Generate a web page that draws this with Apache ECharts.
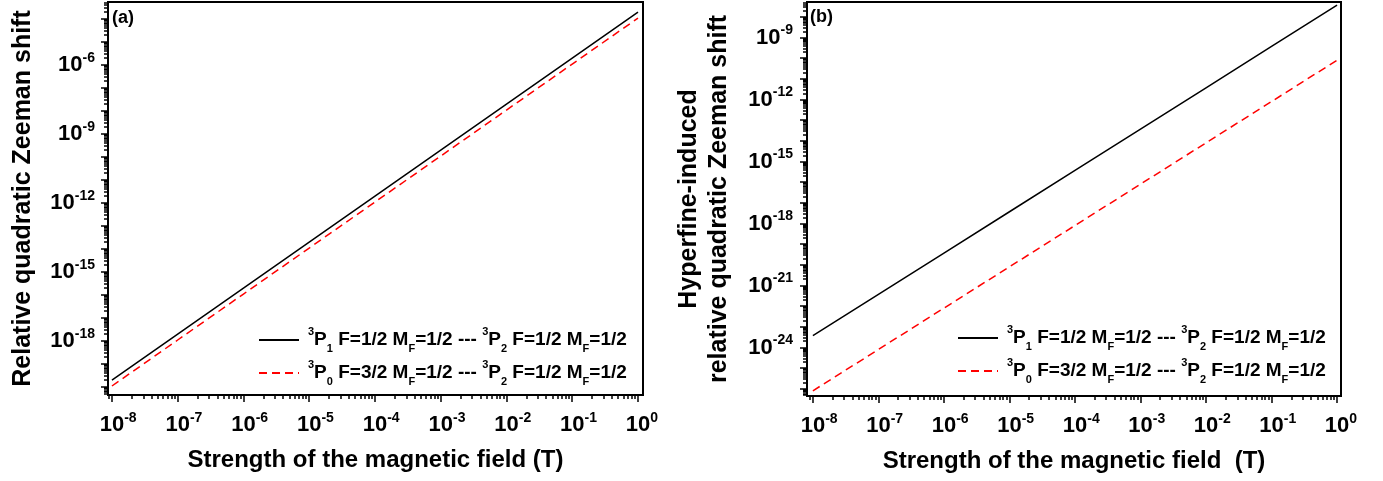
<!DOCTYPE html>
<html><head><meta charset="utf-8">
<script src="https://cdn.jsdelivr.net/npm/echarts@6/dist/echarts.min.js"></script>
<style>html,body{margin:0;padding:0;background:#fff}#c{width:1383px;height:481px}</style>
</head><body><div id="c"></div>
<script>
// ---- data ----
const fieldT = [1e-8, 1e-7, 1e-6, 1e-5, 1e-4, 1e-3, 1e-2, 1e-1, 1];
const xTickExp = [-8, -7, -6, -5, -4, -3, -2, -1, 0];
// panel (a): relative quadratic Zeeman shift
const shiftA_P1 = [2.0e-20, 2.0e-18, 2.0e-16, 2.0e-14, 2.0e-12, 2.0e-10, 2.0e-8, 2.0e-6, 2.0e-4];
const shiftA_P0 = [1.1e-20, 1.1e-18, 1.1e-16, 1.1e-14, 1.1e-12, 1.1e-10, 1.1e-8, 1.1e-6, 1.1e-4];
// panel (b): hyperfine-induced relative quadratic Zeeman shift
const shiftB_P1 = [3.7e-24, 3.7e-22, 3.7e-20, 3.7e-18, 3.7e-16, 3.7e-14, 3.7e-12, 3.7e-10, 3.7e-8];
const shiftB_P0 = [8.0e-27, 8.0e-25, 8.0e-23, 8.0e-21, 8.0e-19, 8.0e-17, 8.0e-15, 8.0e-13, 8.0e-11];
const yTickExpA = [-18, -15, -12, -9, -6];
const yTickExpB = [-24, -21, -18, -15, -12, -9];
const legendText = {
  a1: '{g|}{sup|3}{m|P}{sub|1}{m| F=1/2 M}{sub|F}{m|=1/2 --- }{sup|3}{m|P}{sub|2}{m| F=1/2 M}{sub|F}{m|=1/2}',
  a2: '{g|}{sup|3}{m|P}{sub|0}{m| F=3/2 M}{sub|F}{m|=1/2 --- }{sup|3}{m|P}{sub|2}{m| F=1/2 M}{sub|F}{m|=1/2}'
};
legendText.b1 = legendText.a1; legendText.b2 = legendText.a2;
const xTitleA = 'Strength of the magnetic field (T)';
const xTitleB = 'Strength of the magnetic field  (T)';
const yTitleA = 'Relative quadratic Zeeman shift';
const yTitleB = 'Hyperfine-induced\nrelative quadratic Zeeman shift';

// ---- helpers ----
const FONT = '"Liberation Sans", Arial, sans-serif';
function decades(lo, hi) { const r = []; for (let n = Math.ceil(lo); n <= Math.floor(hi); n++) r.push(n); return r; }
function minors(lo, hi) {
  const r = [];
  for (let n = Math.floor(lo); n <= Math.floor(hi); n++)
    for (let k = 2; k <= 9; k++) { const v = n + Math.log10(k); if (v > lo && v < hi) r.push(v); }
  return r;
}
function toPts(xs, ys) { return xs.map((x, i) => [Math.log10(x), Math.log10(ys[i])]); }
const supW = s => { let w = 0; for (const c of s) w += (c === '-' ? 0.333 : 0.556) * 14; return w; };

const tickLine = { color: '#000', width: 1.5 };
function xAxes(gi, min, max, title) {
  return [{
    type: 'value', gridIndex: gi, min, max, position: 'bottom',
    axisLine: { show: true, onZero: false, lineStyle: { color: '#000', width: 2 } },
    axisTick: { show: true, length: 7, lineStyle: tickLine, customValues: decades(min, max) },
    axisLabel: {
      customValues: xTickExp, margin: 16, color: '#000',
      formatter: v => '{p' + (String(v).length) + '|}{b|10}{s|' + v + '}',
      rich: {
        b: { fontFamily: FONT, fontWeight: 'bold', fontSize: 22, lineHeight: 28, color: '#000' },
        s: { fontFamily: FONT, fontWeight: 'bold', fontSize: 14, lineHeight: 14, verticalAlign: 'top', color: '#000' },
        p1: { width: supW('0') }, p2: { width: supW('-8') }
      }
    },
    splitLine: { show: false },
    name: title, nameLocation: 'middle', nameGap: 53,
    nameTextStyle: { fontFamily: FONT, fontWeight: 'bold', fontSize: 24, color: '#000', verticalAlign: 'top' }
  }, {
    type: 'value', gridIndex: gi, min, max, position: 'bottom',
    axisLine: { show: false, onZero: false },
    axisTick: { show: true, length: 4, lineStyle: tickLine, customValues: minors(min, max) },
    axisLabel: { show: false }, splitLine: { show: false }
  }];
}
function yAxes(gi, min, max, labels, title, gap, margin) {
  return [{
    type: 'value', gridIndex: gi, min, max, position: 'left',
    axisLine: { show: true, onZero: false, lineStyle: { color: '#000', width: 2 } },
    axisTick: { show: true, length: 7, lineStyle: tickLine, customValues: decades(min, max) },
    axisLabel: {
      customValues: labels, margin: margin, color: '#000', align: 'right',
      formatter: v => '{b|10}{s|' + v + '}',
      rich: {
        b: { fontFamily: FONT, fontWeight: 'bold', fontSize: 22, lineHeight: 28, color: '#000' },
        s: { fontFamily: FONT, fontWeight: 'bold', fontSize: 14, lineHeight: 14, verticalAlign: 'top', color: '#000' }
      }
    },
    splitLine: { show: false },
    name: title, nameLocation: 'middle', nameRotate: 90, nameGap: gap,
    nameTextStyle: { fontFamily: FONT, fontWeight: 'bold', fontSize: 25, lineHeight: 30, color: '#000' }
  }, {
    type: 'value', gridIndex: gi, min, max, position: 'left',
    axisLine: { show: false, onZero: false },
    axisTick: { show: true, length: 4, lineStyle: tickLine, customValues: minors(min, max) },
    axisLabel: { show: false }, splitLine: { show: false }
  }];
}
const legendRich = {
  g: { width: 4 },
  m: { fontFamily: FONT, fontWeight: 'bold', fontSize: 19, lineHeight: 28, color: '#000' },
  sup: { fontFamily: FONT, fontWeight: 'bold', fontSize: 11, lineHeight: 11, verticalAlign: 'top', color: '#000' },
  sub: { fontFamily: FONT, fontWeight: 'bold', fontSize: 11, lineHeight: 11, verticalAlign: 'bottom', color: '#000' }
};
function legend(left, top, names) {
  return {
    show: true, orient: 'vertical', left, top, padding: 0, itemWidth: 40, itemHeight: 14, itemGap: 5,
    data: names, formatter: n => legendText[n], textStyle: { rich: legendRich },
    itemStyle: { opacity: 0 }, selectedMode: false
  };
}
const black = { color: '#000', width: 1.5, type: 'solid' };
const red = { color: '#ff0000', width: 1.5, type: [8, 5] };

const chart = echarts.init(document.getElementById('c'), null, { renderer: 'canvas' });
chart.setOption({
  animation: false,
  backgroundColor: '#fff',
  title: [
    { text: '(a)', left: 112, top: 9, padding: 0, textStyle: { fontFamily: FONT, fontWeight: 'bold', fontSize: 18, color: '#000' } },
    { text: '(b)', left: 810, top: 8, padding: 0, textStyle: { fontFamily: FONT, fontWeight: 'bold', fontSize: 18, color: '#000' } }
  ],
  grid: [
    { left: 108, right: 740, top: 2, bottom: 86, show: true, borderColor: '#000', borderWidth: 2, containLabel: false, outerBoundsMode: 'none' },
    { left: 807, right: 42, top: 2, bottom: 85, show: true, borderColor: '#000', borderWidth: 2, containLabel: false, outerBoundsMode: 'none' }
  ],
  xAxis: [...xAxes(0, -8.06, 0.076, xTitleA), ...xAxes(1, -8.09, 0.06, xTitleB)],
  yAxis: [...yAxes(0, -20.35, -3.26, yTickExpA, yTitleA, 70, 13), ...yAxes(1, -26.35, -7.28, yTickExpB, yTitleB, 73, 14)],
  legend: [legend(258, 326, ['a1', 'a2']), legend(957, 324, ['b1', 'b2'])],
  series: [
    { name: 'a1', type: 'line', xAxisIndex: 0, yAxisIndex: 0, data: toPts(fieldT, shiftA_P1), symbol: 'none', lineStyle: black, itemStyle: { color: '#000' } },
    { name: 'a2', type: 'line', xAxisIndex: 0, yAxisIndex: 0, data: toPts(fieldT, shiftA_P0), symbol: 'none', lineStyle: red, itemStyle: { color: '#ff0000' } },
    { name: 'b1', type: 'line', xAxisIndex: 2, yAxisIndex: 2, data: toPts(fieldT, shiftB_P1), symbol: 'none', lineStyle: black, itemStyle: { color: '#000' } },
    { name: 'b2', type: 'line', xAxisIndex: 2, yAxisIndex: 2, data: toPts(fieldT, shiftB_P0), symbol: 'none', lineStyle: red, itemStyle: { color: '#ff0000' } }
  ]
});
</script>
</body></html>
